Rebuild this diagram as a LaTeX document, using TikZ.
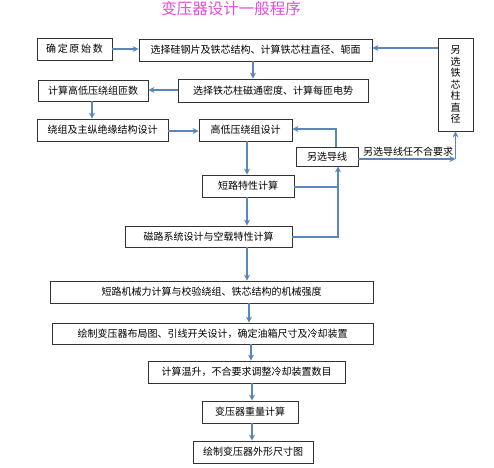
\documentclass[tikz,border=0pt]{standalone}
\usepackage{fontspec}
\setmainfont{Noto Sans CJK SC}
\usetikzlibrary{arrows.meta}
\definecolor{arrowblue}{HTML}{5B86B8}
\definecolor{titlemag}{HTML}{E04CDC}
\tikzset{
  box/.style={draw=black!80, line width=0.8pt, inner sep=0pt, align=center, font=\fontsize{10}{11}\selectfont},
  arr/.style={draw=arrowblue, line width=1.3pt, -{Stealth[length=6pt,width=6pt]}},
  ln/.style={draw=arrowblue, line width=1.3pt}
}
\begin{document}
\begin{tikzpicture}[x=1pt,y=-1pt]
\useasboundingbox (0,0) rectangle (494,467);
\node[text=titlemag, font=\fontsize{15.5}{17}\selectfont] (title) at (231,9) {变压器设计一般程序};
\node[box, minimum width=75pt, minimum height=22pt] (b1) at (74.5,49) {确\,定\,原\,始\,数};
\node[box, minimum width=233pt, minimum height=22pt] (b2) at (255.5,50) {选择硅钢片及铁芯结构、计算铁芯柱直径、轭面};
\node[box, minimum width=35pt, minimum height=93pt, font=\fontsize{10}{11.5}\selectfont] (bR) at (455.5,84.5) {另\\选\\铁\\芯\\柱\\直\\径};
\node[box, minimum width=190pt, minimum height=23pt] (b3) at (273,90.5) {选择铁芯柱磁通密度、计算每匝电势};
\node[box, minimum width=110pt, minimum height=21pt] (b4) at (93,90.5) {计算高低压绕组匝数};
\node[box, minimum width=131pt, minimum height=22pt] (b5) at (102.5,130) {绕组及主纵绝缘结构设计};
\node[box, minimum width=93pt, minimum height=22pt] (b6) at (245.5,130) {高低压绕组设计};
\node[box, minimum width=62pt, minimum height=19pt] (b7) at (327,156.5) {另选导线};
\node[box, minimum width=92pt, minimum height=22pt] (b8) at (248,186) {短路特性计算};
\node[box, minimum width=167pt, minimum height=21pt] (b9) at (208.5,236.5) {磁路系统设计与空载特性计算};
\node[box, minimum width=323pt, minimum height=22pt] (b10) at (211.5,292) {短路机械力计算与校验绕组、铁芯结构的机械强度};
\node[box, minimum width=321pt, minimum height=21pt] (b11) at (212.5,333.5) {绘制变压器布局图、引线开关设计，确定油箱尺寸及冷却装置};
\node[box, minimum width=197pt, minimum height=22pt] (b12) at (246.5,372) {计算温升，不合要求调整冷却装置数目};
\node[box, minimum width=96pt, minimum height=22pt] (b13) at (250,412) {变压器重量计算};
\node[box, minimum width=120pt, minimum height=22pt] (b14) at (253,452) {绘制变压器外形尺寸图};

% horizontal arrows
\draw[arr] (b1.east |- 0,49) -- (b2.west |- 0,49);
\draw[arr] (bR.west |- 0,48) -- (b2.east |- 0,48);
\draw[arr] (b3.west |- 0,90) -- (b4.east |- 0,90);
\draw[arr] (b5.east |- 0,131) -- (b6.west |- 0,131);
% vertical arrows
\draw[arr] (253,0 |- b2.south) -- (253,0 |- b3.north);
\draw[arr] (92,0 |- b4.south) -- (92,0 |- b5.north);
\draw[arr] (247,0 |- b6.south) -- (247,0 |- b8.north);
\draw[arr] (247,0 |- b8.south) -- (247,0 |- b9.north);
\draw[arr] (247,0 |- b9.south) -- (247,0 |- b10.north);
\draw[arr] (249,0 |- b10.south) -- (249,0 |- b11.north);
\draw[arr] (251,0 |- b11.south) -- (251,0 |- b12.north);
\draw[arr] (252,0 |- b12.south) -- (252,0 |- b13.north);
\draw[arr] (252,0 |- b13.south) -- (252,0 |- b14.north);
% loops
\coordinate (c7top) at (336,129);
\draw[arr] (336,0 |- b7.north) -- (c7top) -- (b6.east |- c7top);
\coordinate (c7r) at (455.5,159);
\draw[arr] (b7.east |- c7r) -- (c7r);
\draw[arr] (c7r) -- (bR.south);
\node[font=\fontsize{10}{11}\selectfont, anchor=south, inner sep=1pt] (lbl) at (408,158) {另选导线任不合要求};
\coordinate (j8) at (338,187);
\coordinate (j9) at (338,237);
\draw[ln] (b8.east |- j8) -- (j8);
\draw[arr] (b9.east |- j9) -- (j9) -- (338,0 |- b7.south);
\end{tikzpicture}
\end{document}
